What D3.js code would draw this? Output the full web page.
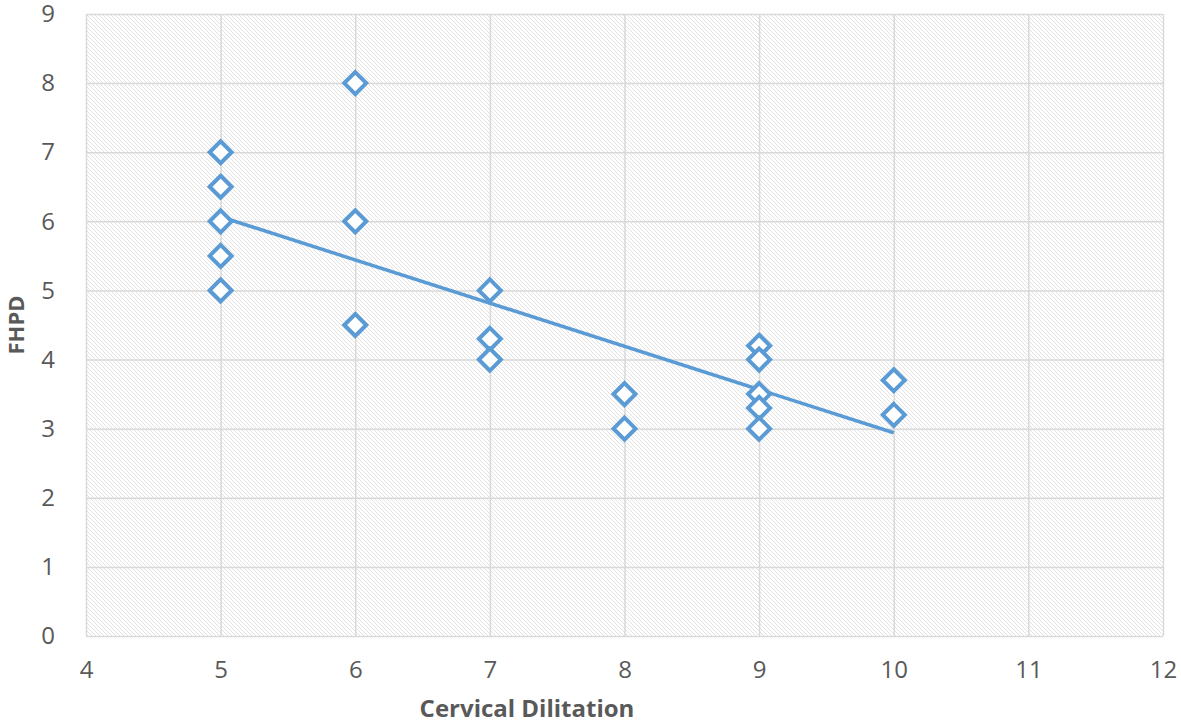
<!DOCTYPE html>
<html>
<head>
<meta charset="utf-8">
<script src="https://cdn.jsdelivr.net/npm/d3@7"></script>
<style>
  body { margin: 0; background: #fff; }
  svg text { font-family: "Open Sans", "Noto Sans", sans-serif; fill: #595959; }
</style>
</head>
<body>
<div id="chart"></div>
<script>
// cervical dilitation (x) and FHPD (y) readings
var dilitation = [5, 5, 5, 5, 5, 6, 6, 6, 7, 7, 7, 8, 8, 9, 9, 9, 9, 9, 10, 10];
var fhpd       = [7, 6.5, 6, 5.5, 5, 8, 6, 4.5, 5, 4.3, 4, 3.5, 3, 4.2, 4, 3.5, 3.3, 3, 3.7, 3.2];
var xTicks = [4, 5, 6, 7, 8, 9, 10, 11, 12];
var yTicks = [0, 1, 2, 3, 4, 5, 6, 7, 8, 9];

var blue = '#5b9bd5';
var gridColor = '#d9d9d9';

var width = 1181, height = 724;
var margin = {top: 14, right: 18, bottom: 88, left: 86};

var svg = d3.select('#chart').append('svg')
  .attr('width', width)
  .attr('height', height);

// diagonal hatch fill for the plot area
var pat = svg.append('defs').append('pattern')
  .attr('id', 'hatch')
  .attr('patternUnits', 'userSpaceOnUse')
  .attr('width', 4)
  .attr('height', 4);
pat.append('rect').attr('width', 4).attr('height', 4).attr('fill', '#fff');
pat.append('path')
  .attr('d', 'M0,0 L4,4 M-1,3 L1,5 M3,-1 L5,1')
  .attr('stroke', '#dadada')
  .attr('stroke-width', 0.8);

var x = d3.scaleLinear().domain([4, 12]).range([margin.left, width - margin.right]);
var y = d3.scaleLinear().domain([0, 9]).range([height - margin.bottom, margin.top]);

svg.append('rect')
  .attr('x', x(4)).attr('y', y(9))
  .attr('width', x(12) - x(4)).attr('height', y(0) - y(9))
  .attr('fill', 'url(#hatch)');

// gridlines
svg.append('g').selectAll('line').data(yTicks).enter().append('line')
  .attr('x1', x(4)).attr('x2', x(12))
  .attr('y1', function(d){ return y(d) + 0.5; })
  .attr('y2', function(d){ return y(d) + 0.5; })
  .attr('stroke', gridColor).attr('stroke-width', 1.5);
svg.append('g').selectAll('line').data(xTicks).enter().append('line')
  .attr('y1', y(0)).attr('y2', y(9))
  .attr('x1', function(d){ return x(d) + 0.5; })
  .attr('x2', function(d){ return x(d) + 0.5; })
  .attr('stroke', gridColor).attr('stroke-width', 1.5);

// axes, labels only
var xAxis = svg.append('g')
  .attr('transform', 'translate(0,' + y(0) + ')')
  .call(d3.axisBottom(x).tickValues(xTicks).tickSize(0).tickPadding(25));
var yAxis = svg.append('g')
  .attr('transform', 'translate(' + x(4) + ',0)')
  .call(d3.axisLeft(y).tickValues(yTicks).tickSize(0).tickPadding(31));
[xAxis, yAxis].forEach(function(a){
  a.select('.domain').remove();
  a.selectAll('text').style('font-size', '24px').attr('fill', '#595959');
});

svg.append('text')
  .attr('x', 527).attr('y', 717)
  .attr('text-anchor', 'middle')
  .style('font-size', '24px').style('font-weight', 'bold')
  .text('Cervical Dilitation');
svg.append('text')
  .attr('transform', 'translate(24,' + (y(4.5)) + ') rotate(-90)')
  .attr('text-anchor', 'middle')
  .style('font-size', '22px').style('font-weight', 'bold')
  .text('FHPD');

// linear trendline
var pts = dilitation.map(function(d, i){ return [d, fhpd[i]]; });
var mx = d3.mean(dilitation), my = d3.mean(fhpd);
var sxy = d3.sum(pts, function(p){ return (p[0] - mx) * (p[1] - my); });
var sxx = d3.sum(pts, function(p){ return (p[0] - mx) * (p[0] - mx); });
var slope = sxy / sxx, icept = my - slope * mx;
var xr = d3.extent(dilitation);
svg.append('path')
  .datum(xr.map(function(v){ return [v, icept + slope * v]; }))
  .attr('d', d3.line().x(function(d){ return x(d[0]); }).y(function(d){ return y(d[1]); }))
  .attr('fill', 'none').attr('stroke', blue).attr('stroke-width', 3.5);

// diamond markers
var r = 11;
svg.append('g').selectAll('path').data(pts).enter().append('path')
  .attr('transform', function(d){ return 'translate(' + x(d[0]) + ',' + y(d[1]) + ')'; })
  .attr('d', 'M0,' + (-r) + ' L' + r + ',0 L0,' + r + ' L' + (-r) + ',0 Z')
  .attr('fill', '#fff')
  .attr('stroke', blue)
  .attr('stroke-width', 4);
</script>
</body>
</html>
